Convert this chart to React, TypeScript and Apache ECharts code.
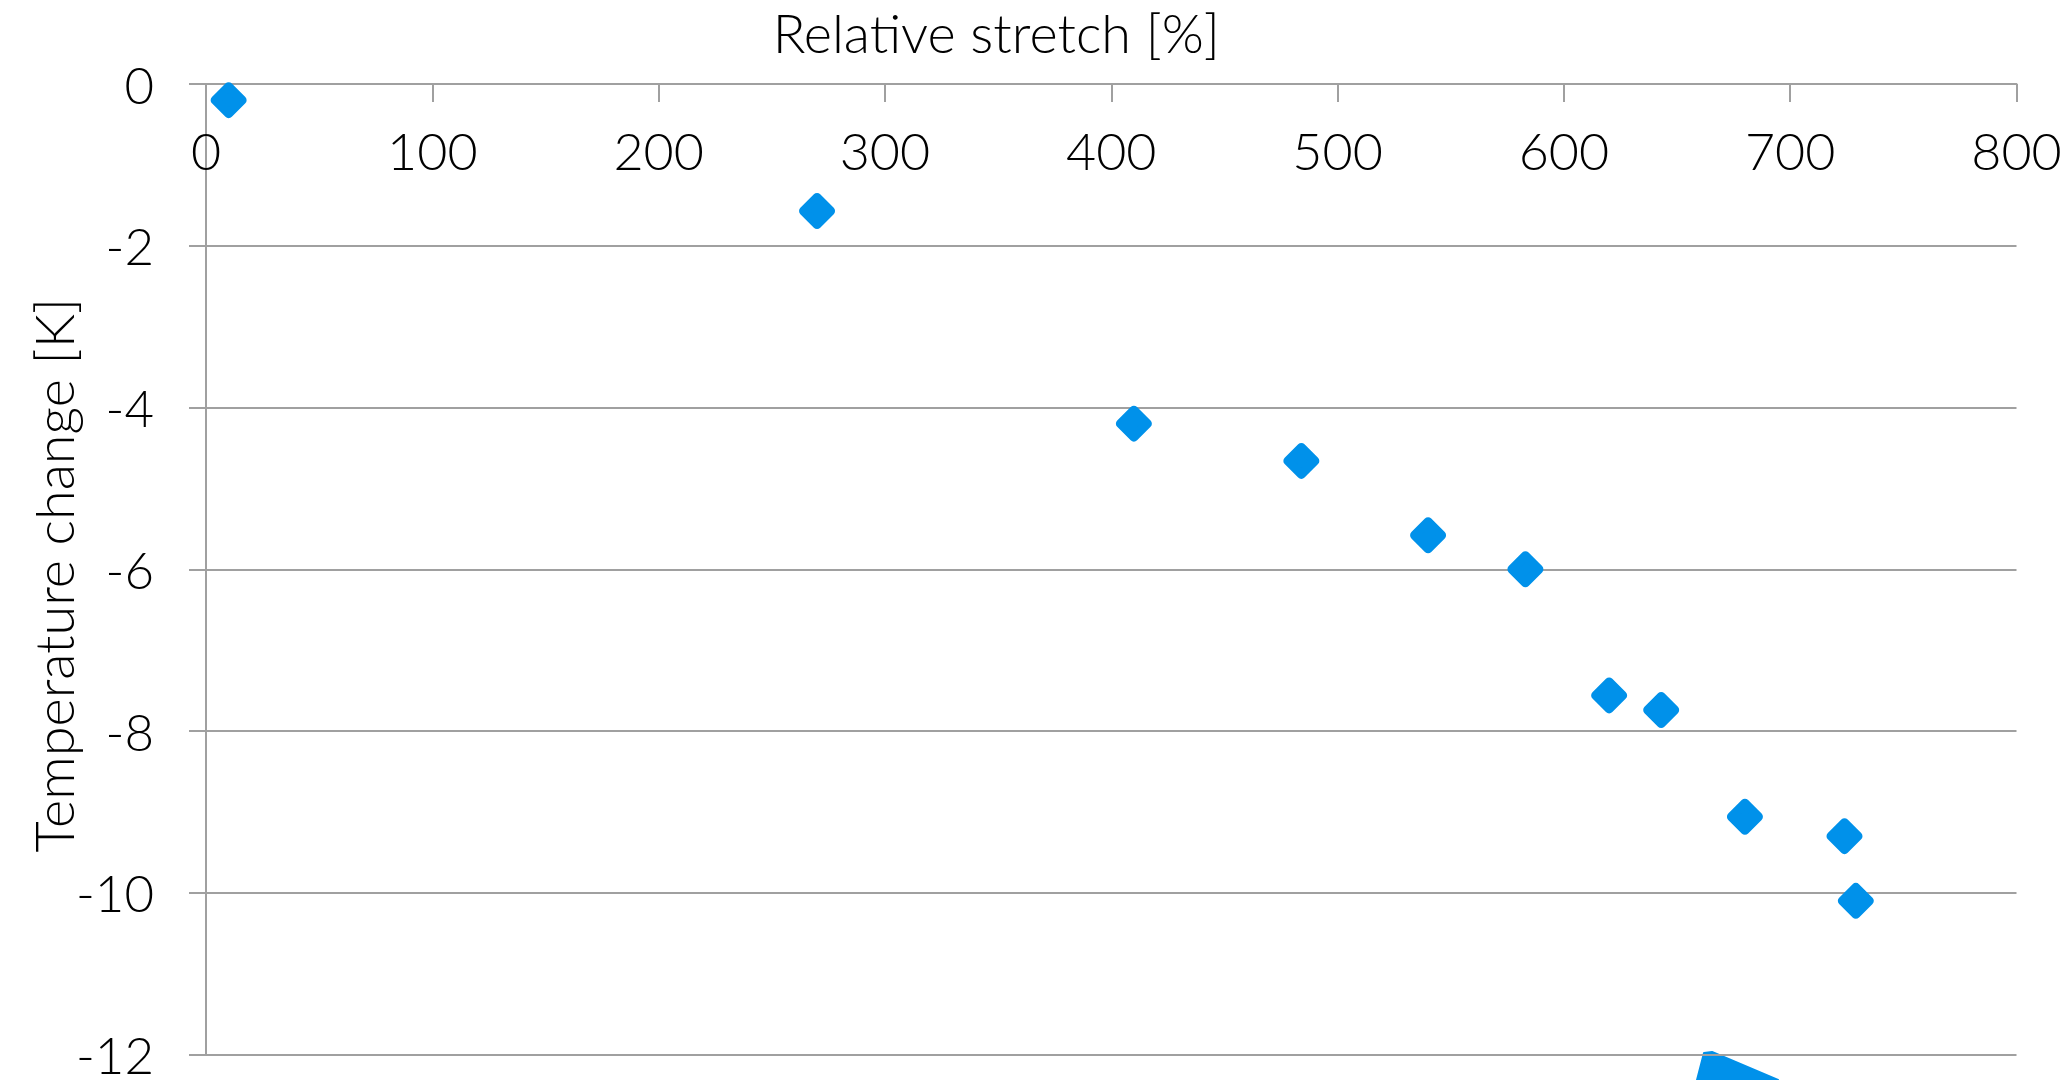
import React, { useEffect, useRef } from "react";
import * as echarts from "echarts";

const stretchPct = [10, 270, 410, 484, 540, 583, 620, 643, 680, 724, 729];
const tempChangeK = [-0.2, -1.57, -4.2, -4.66, -5.58, -6.0, -7.56, -7.74, -9.06, -9.3, -10.1];
const xAxisName = "Relative stretch [%]";
const yAxisName = "Temperature change [K]";

const FONT = "Lato";
const BLUE = "#0091EA";
const GRAY = "#A0A0A0";

export default function App() {
  const ref = useRef<HTMLDivElement>(null);
  useEffect(() => {
    document.body.style.margin = "0";
    const chart = echarts.init(ref.current!, undefined, { renderer: "svg" });
    const data = stretchPct.map((x, i) => [x, tempChangeK[i]]);
    chart.setOption({
      animation: false,
      backgroundColor: "#ffffff",
      textStyle: { fontFamily: FONT, fontWeight: 300, color: "#000" },
      grid: { left: 206, right: 54.5, top: 84, bottom: 19.3, containLabel: false },
      xAxis: {
        type: "value",
        position: "top",
        min: 0,
        max: 800,
        interval: 100,
        name: xAxisName,
        nameLocation: "middle",
        nameGap: 25,
        nameMoveOverlap: false,
        nameTextStyle: {
          fontSize: 54,
          fontFamily: FONT,
          fontWeight: 300,
          color: "#000",
          padding: [0, 230, 0, 0],
        },
        axisLine: { show: true, onZero: false, lineStyle: { color: GRAY, width: 2 } },
        axisTick: { show: true, inside: true, length: 18, lineStyle: { color: GRAY, width: 2 } },
        axisLabel: { inside: true, margin: 40, fontSize: 52, fontFamily: FONT, fontWeight: 300, color: "#000" },
        splitLine: { show: false },
      },
      yAxis: {
        type: "value",
        min: -12,
        max: 0,
        interval: 2,
        name: yAxisName,
        nameLocation: "middle",
        nameGap: 153,
        nameMoveOverlap: false,
        nameTextStyle: {
          fontSize: 54,
          fontFamily: FONT,
          fontWeight: 300,
          color: "#000",
          verticalAlign: "middle",
          padding: [0, 12, 0, 0],
        },
        axisLine: { show: true, onZero: false, lineStyle: { color: GRAY, width: 2 } },
        axisTick: { show: true, inside: false, length: 17, lineStyle: { color: GRAY, width: 2 } },
        axisLabel: { margin: 52, fontSize: 51, fontFamily: FONT, fontWeight: 300, color: "#000" },
        splitLine: { show: true, lineStyle: { color: GRAY, width: 2 } },
      },
      series: [
        {
          type: "scatter",
          data,
          symbol: "diamond",
          symbolSize: 27,
          itemStyle: { color: BLUE, opacity: 1, borderColor: BLUE, borderWidth: 9, borderJoin: "round" },
        },
      ],
      graphic: [
        {
          type: "polygon",
          silent: true,
          shape: { points: [[1704, 1053], [1712, 1052], [1778, 1080], [1697, 1080]] },
          style: { fill: BLUE, stroke: BLUE, lineWidth: 2, lineJoin: "round" },
        },
      ],
    });
    return () => chart.dispose();
  }, []);
  return <div ref={ref} style={{ position: "absolute", left: 0, top: 0, width: 2071, height: 1080 }} />;
}
